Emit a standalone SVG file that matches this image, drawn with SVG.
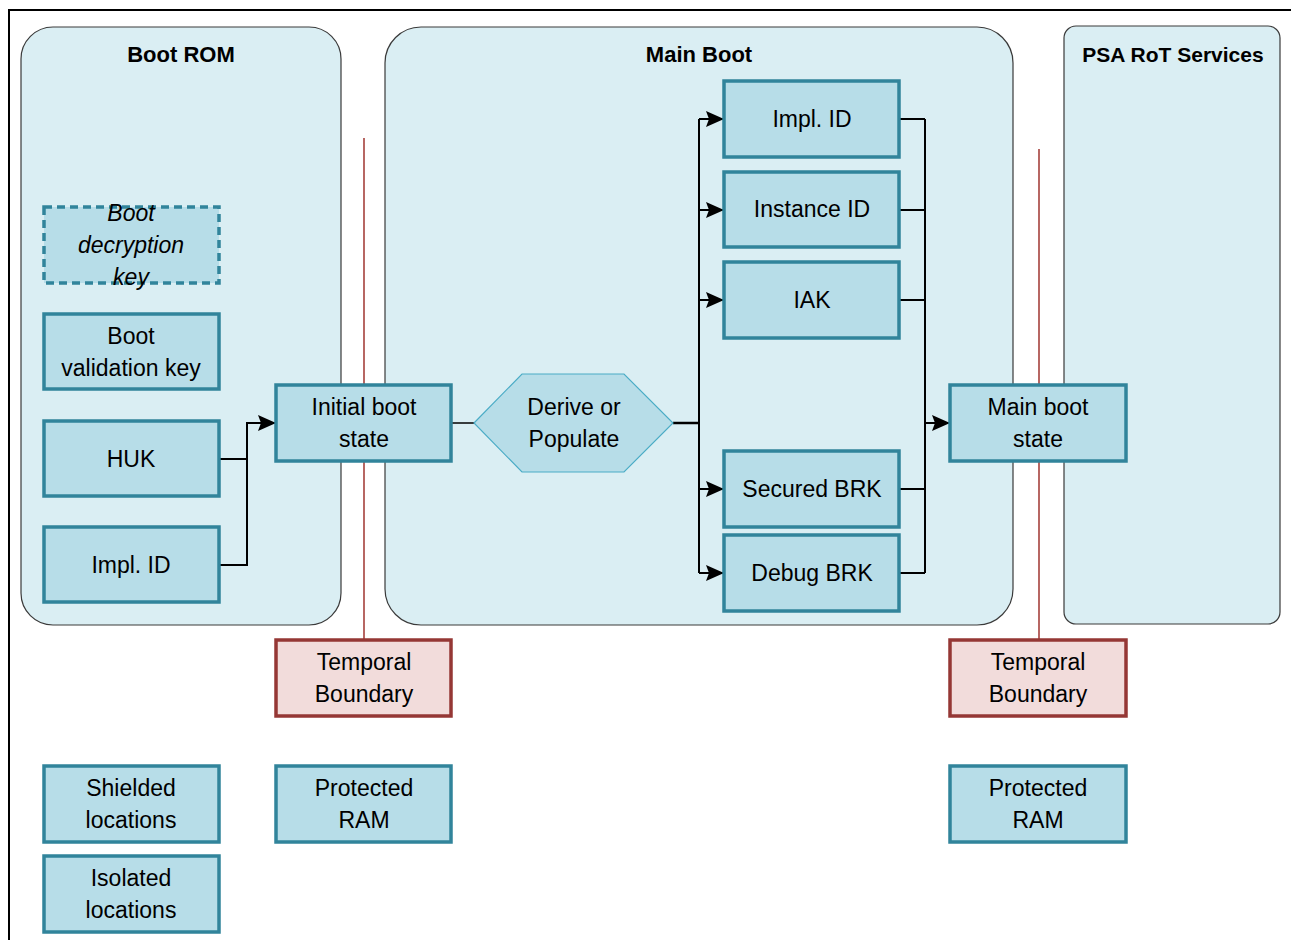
<svg xmlns="http://www.w3.org/2000/svg" width="1291" height="940" viewBox="0 0 1291 940">
<style>
.frame{fill:none;stroke:#000;stroke-width:2}
.cont{fill:#daeef3;stroke:#3a3a3a;stroke-width:1.2}
.title{font-family:"Liberation Sans",Arial,sans-serif;font-weight:bold;font-size:22px;fill:#000;text-anchor:middle;dominant-baseline:central}
.box{fill:#b7dde8;stroke:#31849b;stroke-width:3.5}
.dash{fill:#b7dde8;stroke:#31849b;stroke-width:3.5;stroke-dasharray:8 5}
.hex{fill:#b7dde8;stroke:#4bacc6;stroke-width:1.2}
.temp{fill:#f2dcdb;stroke:#953735;stroke-width:3.5}
.lbl{font-family:"Liberation Sans",Arial,sans-serif;font-size:23px;fill:#000;text-anchor:middle;dominant-baseline:central}
.it{font-style:italic}
.red{stroke:#a5403c;stroke-width:1.6;fill:none}
.conn{stroke:#000;stroke-width:2;fill:none}
</style>
<defs>
<marker id="arr" markerUnits="userSpaceOnUse" markerWidth="20" markerHeight="16" refX="18" refY="8" orient="auto">
<path d="M0,0 L18,8 L0,16 L3,8 Z" fill="#000"/>
</marker>
</defs>
<rect width="1291" height="940" fill="#fff"/>
<path class="frame" d="M9,940 L9,10 L1291,10"/>

<g id="boot-rom">
<rect class="cont" x="21" y="27" width="320" height="598" rx="32"/>
<text class="title" x="181" y="54">Boot ROM</text>
</g>
<g id="main-boot">
<rect class="cont" x="385" y="27" width="628" height="598" rx="36"/>
<text class="title" x="699" y="54">Main Boot</text>
</g>
<g id="psa-rot">
<rect class="cont" x="1064" y="26" width="216" height="598" rx="12"/>
<text class="title" x="1173" y="54" style="font-size:21px">PSA RoT Services</text>
</g>

<g id="temporal-lines">
<line class="red" x1="364" y1="138" x2="364" y2="640"/>
<line class="red" x1="1039" y1="149" x2="1039" y2="640"/>
</g>

<g id="connectors">
<path class="conn" d="M219,459 H247"/>
<path class="conn" d="M219,565 H247 V423 H276" marker-end="url(#arr)"/>
<line class="conn" x1="451" y1="423" x2="474" y2="423" style="stroke-width:1.5"/>
<path class="conn" d="M673,423 H699" style="stroke-width:2.5"/>
<path class="conn" d="M699,119 V573"/>
<path class="conn" d="M699,119 H724" marker-end="url(#arr)"/>
<path class="conn" d="M699,210 H724" marker-end="url(#arr)"/>
<path class="conn" d="M699,300 H724" marker-end="url(#arr)"/>
<path class="conn" d="M699,489 H724" marker-end="url(#arr)"/>
<path class="conn" d="M699,573 H724" marker-end="url(#arr)"/>
<path class="conn" d="M899,119 H925 M899,210 H925 M899,300 H925 M899,489 H925 M899,573 H925 M925,119 V573"/>
<path class="conn" d="M925,423 H950" marker-end="url(#arr)"/>
</g>

<g id="boot-decryption-key">
<rect class="dash" x="44" y="207" width="175" height="76"/>
<text class="lbl it" x="131" y="213">Boot</text>
<text class="lbl it" x="131" y="245">decryption</text>
<text class="lbl it" x="131" y="277">key</text>
</g>
<g id="boot-validation-key">
<rect class="box" x="44" y="314" width="175" height="75"/>
<text class="lbl" x="131" y="336">Boot</text>
<text class="lbl" x="131" y="368">validation key</text>
</g>
<g id="huk">
<rect class="box" x="44" y="421" width="175" height="75"/>
<text class="lbl" x="131" y="459">HUK</text>
</g>
<g id="impl-id-left">
<rect class="box" x="44" y="527" width="175" height="75"/>
<text class="lbl" x="131" y="565">Impl. ID</text>
</g>
<g id="initial-boot-state">
<rect class="box" x="276" y="385" width="175" height="76"/>
<text class="lbl" x="364" y="407">Initial boot</text>
<text class="lbl" x="364" y="439">state</text>
</g>
<g id="derive-or-populate">
<polygon class="hex" points="474,423 522,374 624,374 673,423 624,472 522,472"/>
<text class="lbl" x="574" y="407">Derive or</text>
<text class="lbl" x="574" y="439">Populate</text>
</g>
<g id="impl-id-right">
<rect class="box" x="724" y="81" width="175" height="76"/>
<text class="lbl" x="812" y="119">Impl. ID</text>
</g>
<g id="instance-id">
<rect class="box" x="724" y="172" width="175" height="75"/>
<text class="lbl" x="812" y="209">Instance ID</text>
</g>
<g id="iak">
<rect class="box" x="724" y="262" width="175" height="76"/>
<text class="lbl" x="812" y="300">IAK</text>
</g>
<g id="secured-brk">
<rect class="box" x="724" y="451" width="175" height="76"/>
<text class="lbl" x="812" y="489">Secured BRK</text>
</g>
<g id="debug-brk">
<rect class="box" x="724" y="535" width="175" height="76"/>
<text class="lbl" x="812" y="573">Debug BRK</text>
</g>
<g id="main-boot-state">
<rect class="box" x="950" y="385" width="176" height="76"/>
<text class="lbl" x="1038" y="407">Main boot</text>
<text class="lbl" x="1038" y="439">state</text>
</g>
<g id="temporal-boundary-left">
<rect class="temp" x="276" y="640" width="175" height="76"/>
<text class="lbl" x="364" y="662">Temporal</text>
<text class="lbl" x="364" y="694">Boundary</text>
</g>
<g id="temporal-boundary-right">
<rect class="temp" x="950" y="640" width="176" height="76"/>
<text class="lbl" x="1038" y="662">Temporal</text>
<text class="lbl" x="1038" y="694">Boundary</text>
</g>
<g id="shielded-locations">
<rect class="box" x="44" y="766" width="175" height="76"/>
<text class="lbl" x="131" y="788">Shielded</text>
<text class="lbl" x="131" y="820">locations</text>
</g>
<g id="isolated-locations">
<rect class="box" x="44" y="856" width="175" height="76"/>
<text class="lbl" x="131" y="878">Isolated</text>
<text class="lbl" x="131" y="910">locations</text>
</g>
<g id="protected-ram-left">
<rect class="box" x="276" y="766" width="175" height="76"/>
<text class="lbl" x="364" y="788">Protected</text>
<text class="lbl" x="364" y="820">RAM</text>
</g>
<g id="protected-ram-right">
<rect class="box" x="950" y="766" width="176" height="76"/>
<text class="lbl" x="1038" y="788">Protected</text>
<text class="lbl" x="1038" y="820">RAM</text>
</g>
</svg>
